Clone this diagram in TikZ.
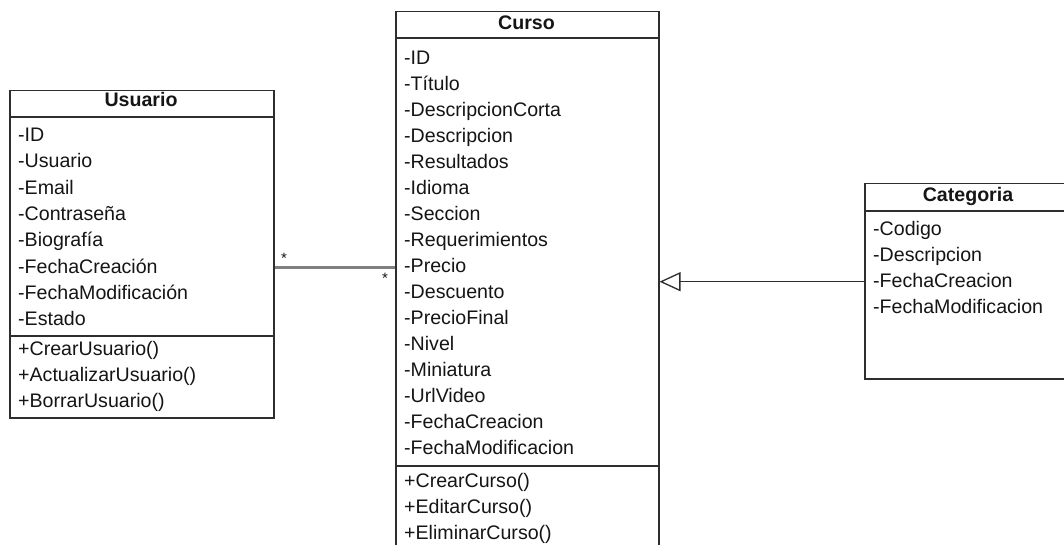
\documentclass[tikz,border=0pt]{standalone}
\usepackage{fontspec}
\setmainfont{Liberation Sans}
\usetikzlibrary{arrows.meta}
\definecolor{boxcol}{HTML}{2E2E2E}
\definecolor{txtcol}{HTML}{151515}
\definecolor{assoccol}{HTML}{808080}
\begin{document}
\begin{tikzpicture}[x=1pt,y=-1pt,
  classbox/.style={draw=boxcol, line width=1.5pt, inner sep=0pt, anchor=north west},
  sepline/.style={draw=boxcol, line width=1.5pt},
  member/.style={anchor=base west, inner sep=0pt, text=txtcol, font=\fontsize{19.6}{23}\selectfont},
  classtitle/.style={anchor=base, inner sep=0pt, text=txtcol, font=\bfseries\fontsize{19.6}{23}\selectfont},
  mult/.style={inner sep=0pt, text=txtcol, font=\fontsize{15}{17}\selectfont},
  assoc/.style={draw=assoccol, line width=2.6pt},
  generalization/.style={draw=boxcol, line width=1.3pt, -{Triangle[open, length=21pt, width=19pt, line width=1.3pt]}}]
\useasboundingbox (0,0) rectangle (1064,545);
\clip (0,0) rectangle (1064,545);
\fill[white] (0,0) rectangle (1064,545);

% ---- Usuario ----
\node[classbox, minimum width=264pt, minimum height=327pt] (usuario) at (9,90) {};
\node[classtitle] (usuario-t) at (141,107) {Usuario};
\draw[sepline] (usuario.west |- 0,117) -- (usuario.east |- 0,117);
\draw[sepline] (usuario.west |- 0,336) -- (usuario.east |- 0,336);
\foreach \txt [count=\i from 0] in {-ID,-Usuario,-Email,-Contraseña,-Biografía,-FechaCreación,-FechaModificación,-Estado}
  \node[member] (usuario-a\i) at (18,141.5+26.3*\i) {\txt};
\foreach \txt [count=\i from 0] in {+CrearUsuario(),+ActualizarUsuario(),+BorrarUsuario()}
  \node[member] (usuario-m\i) at (18,355+26*\i) {\txt};

% ---- Curso ----
\node[classbox, minimum width=263pt, minimum height=600pt] (curso) at (395,11) {};
\node[classtitle] (curso-t) at (526.5,30) {Curso};
\draw[sepline] (curso.west |- 0,38) -- (curso.east |- 0,38);
\draw[sepline] (curso.west |- 0,466) -- (curso.east |- 0,466);
\foreach \txt [count=\i from 0] in {-ID,-Título,-DescripcionCorta,-Descripcion,-Resultados,-Idioma,-Seccion,-Requerimientos,-Precio,-Descuento,-PrecioFinal,-Nivel,-Miniatura,-UrlVideo,-FechaCreacion,-FechaModificacion}
  \node[member] (curso-a\i) at (404,64.5+26*\i) {\txt};
\foreach \txt [count=\i from 0] in {+CrearCurso(),+EditarCurso(),+EliminarCurso()}
  \node[member] (curso-m\i) at (404,487+26*\i) {\txt};

% ---- Categoria ----
\node[classbox, minimum width=300pt, minimum height=195pt] (categoria) at (864,183) {};
\node[classtitle] (categoria-t) at (968,201.7) {Categoria};
\draw[sepline] (categoria.west |- 0,211) -- (categoria.east |- 0,211);
\foreach \txt [count=\i from 0] in {-Codigo,-Descripcion,-FechaCreacion,-FechaModificacion}
  \node[member] (categoria-a\i) at (873,235+26.3*\i) {\txt};

% ---- Relations ----
\draw[assoc] (usuario.east |- 0,267.7) -- (curso.west |- 0,267.7);
\node[mult] (mult-u) at (284,258) {*};
\node[mult] (mult-c) at (385,278) {*};
\draw[generalization] (categoria.west |- 0,281.7) -- (curso.east |- 0,281.7);
\end{tikzpicture}
\end{document}
